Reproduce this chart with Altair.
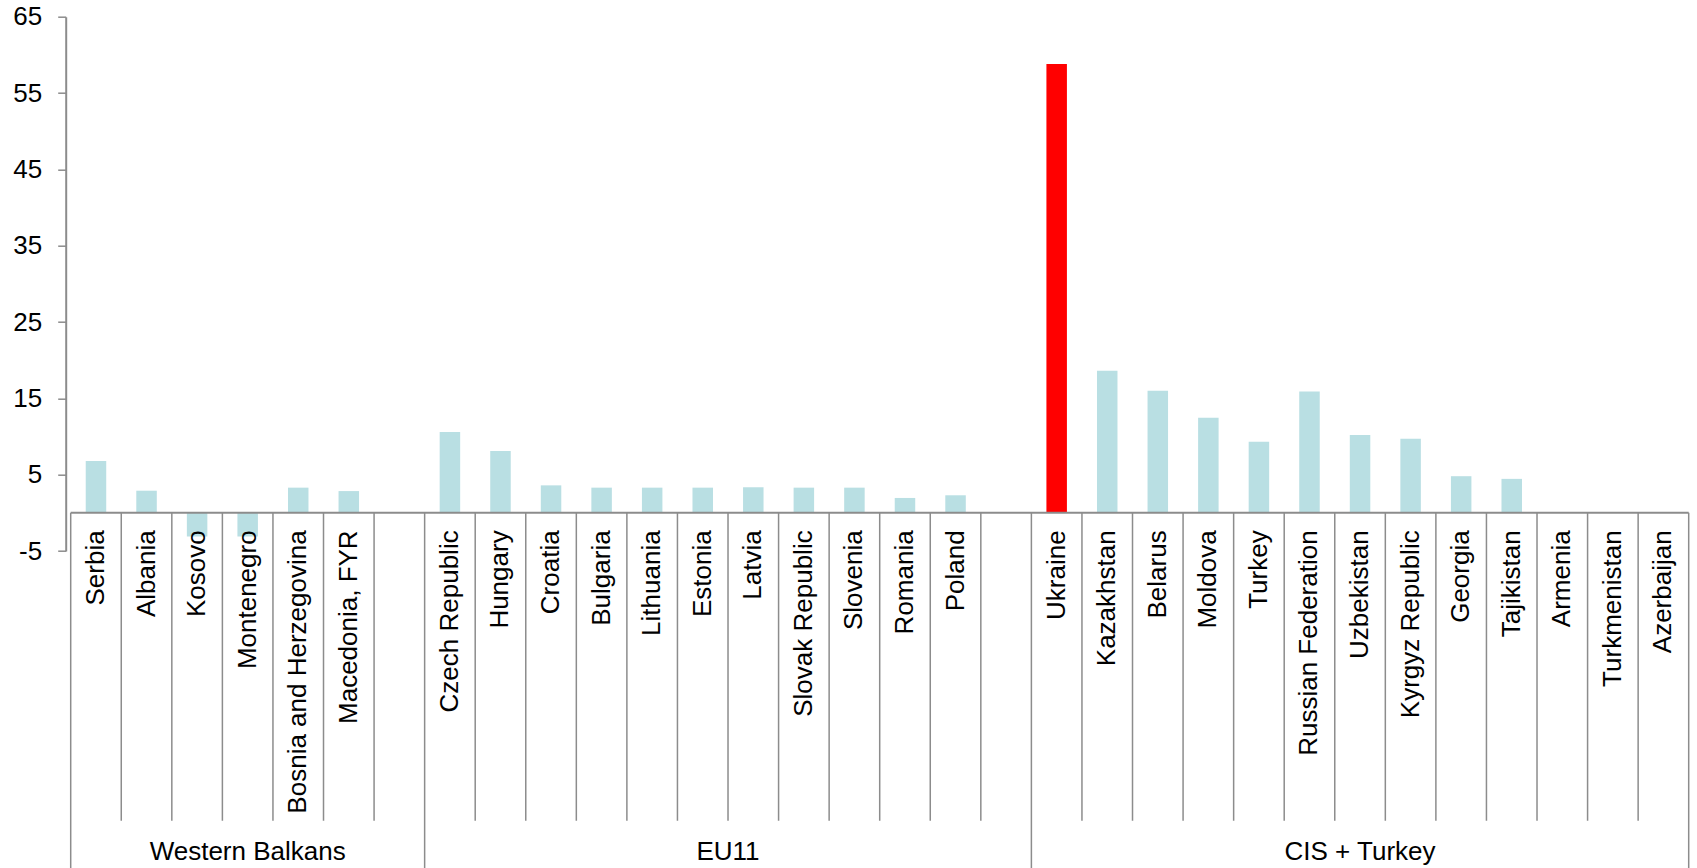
import altair as alt
import pandas as pd

# Country groups, listed in display order
groups = ["Western Balkans", "EU11", "CIS + Turkey"]

wb_countries = ["Serbia", "Albania", "Kosovo", "Montenegro",
                "Bosnia and Herzegovina", "Macedonia, FYR"]
wb_values = [6.8, 2.9, -3.1, -3.1, 3.3, 2.85]

eu_countries = ["Czech Republic", "Hungary", "Croatia", "Bulgaria", "Lithuania",
                "Estonia", "Latvia", "Slovak Republic", "Slovenia", "Romania", "Poland"]
eu_values = [10.6, 8.1, 3.6, 3.3, 3.3, 3.3, 3.35, 3.3, 3.3, 1.95, 2.3]

cis_countries = ["Ukraine", "Kazakhstan", "Belarus", "Moldova", "Turkey",
                 "Russian Federation", "Uzbekistan", "Kyrgyz Republic", "Georgia",
                 "Tajikistan", "Armenia", "Turkmenistan", "Azerbaijan"]
cis_values = [58.8, 18.6, 16.0, 12.45, 9.3, 15.9, 10.2, 9.7, 4.8, 4.45, 0.1, 0.0, 0.0]

# empty category slots that close each group
gap_slots = [1, 1, 0]

highlight = "Ukraine"
y_ticks = [-5, 5, 15, 25, 35, 45, 55, 65]

# Build slot positions: one slot per country plus the trailing gaps
rows, group_rows, seps, group_seps = [], [], [], [0]
slot = 0
for g, names, vals, gap in zip(groups,
                                [wb_countries, eu_countries, cis_countries],
                                [wb_values, eu_values, cis_values],
                                gap_slots):
    start = slot
    for n, v in zip(names, vals):
        rows.append({"country": n, "value": v, "group": g, "pos": slot + 0.5})
        slot += 1
    slot += gap
    group_rows.append({"group": g, "pos": (start + slot) / 2})
    group_seps.append(slot)
    seps.extend(range(start + 1, slot))

n_slots = slot
bars_df = pd.DataFrame(rows)
groups_df = pd.DataFrame(group_rows)
seps_df = pd.DataFrame({"b": seps})
gseps_df = pd.DataFrame({"b": group_seps})

W = 1628
H = 534.3
Y_MIN, Y_MAX = -5, 65
zero_px = (Y_MAX - 0) / (Y_MAX - Y_MIN) * H

FONT = "Liberation Sans"
LINE = "#8c8c8c"

x_scale = alt.Scale(domain=[0, n_slots], nice=False, zero=False)
y_scale = alt.Scale(domain=[Y_MIN, Y_MAX], nice=False, zero=False)

bars = alt.Chart(bars_df).mark_bar(size=20.5, orient="vertical").encode(
    x=alt.X("pos:Q", scale=x_scale, axis=None),
    y=alt.Y("value:Q", scale=y_scale,
            axis=alt.Axis(values=y_ticks, title=None, grid=False,
                          labelExpr="'' + datum.value",
                          labelFont=FONT, labelFontSize=26, labelColor="black",
                          labelPadding=16, tickSize=8, tickColor=LINE,
                          tickWidth=1.5, domainColor=LINE, domainWidth=2)),
    y2=alt.datum(0),
    color=alt.condition(alt.datum.country == highlight,
                        alt.value("#ff0000"), alt.value("#b9dfe3")),
)

zero_line = alt.Chart(pd.DataFrame({"a": [0], "b": [n_slots]})).mark_rule(
    color=LINE, strokeWidth=2
).encode(
    x=alt.X("a:Q", scale=x_scale),
    x2="b:Q",
    y=alt.datum(0),
)

country_seps = alt.Chart(seps_df).mark_rule(color=LINE, strokeWidth=1.5).encode(
    x=alt.X("b:Q", scale=x_scale),
    y=alt.value(zero_px),
    y2=alt.value(804),
)

group_lines = alt.Chart(gseps_df).mark_rule(color=LINE, strokeWidth=1.5).encode(
    x=alt.X("b:Q", scale=x_scale),
    y=alt.value(zero_px),
    y2=alt.value(851.3),
)

country_labels = alt.Chart(bars_df).mark_text(
    angle=270, align="right", baseline="middle",
    font=FONT, fontSize=26, color="black"
).encode(
    x=alt.X("pos:Q", scale=x_scale),
    y=alt.value(zero_px + 17.5),
    text="country:N",
)

group_labels = alt.Chart(groups_df).mark_text(
    align="center", baseline="middle",
    font=FONT, fontSize=26, color="black"
).encode(
    x=alt.X("pos:Q", scale=x_scale),
    y=alt.value(835.3),
    text="group:N",
)

chart = alt.layer(
    bars, zero_line, country_seps, group_lines, country_labels, group_labels
).properties(
    width=W,
    height=H,
    autosize="none",
    padding={"left": 65.7, "top": 16.7, "right": 3.3, "bottom": 317},
    background="white",
).configure_view(stroke=None)

chart.save("out.html", embed_options={"renderer": "svg", "actions": False})
